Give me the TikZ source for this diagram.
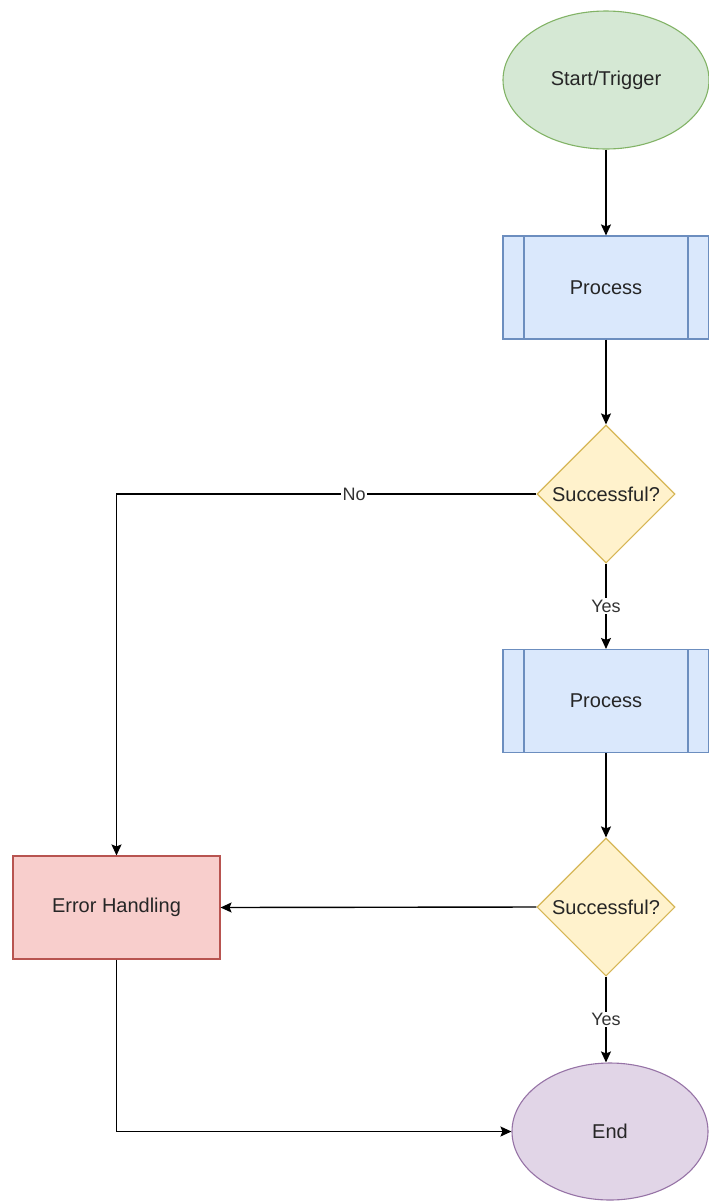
\documentclass[tikz,border=0pt]{standalone}
\usepackage{fontspec}
\setmainfont{Liberation Sans}
\usetikzlibrary{shapes.geometric,arrows.meta}
\definecolor{gfill}{HTML}{D5E8D4}\definecolor{gdraw}{HTML}{82B366}
\definecolor{bfill}{HTML}{DAE8FC}\definecolor{bdraw}{HTML}{6C8EBF}
\definecolor{yfill}{HTML}{FFF2CC}\definecolor{ydraw}{HTML}{D6B656}
\definecolor{rfill}{HTML}{F8CECC}\definecolor{rdraw}{HTML}{B85450}
\definecolor{pfill}{HTML}{E1D5E7}\definecolor{pdraw}{HTML}{9673A6}
\tikzset{
  base/.style={font=\fontsize{20}{24}\selectfont, text=black!85, inner sep=0pt, line width=1.1pt},
  term/.style={base, ellipse, minimum width=#1, minimum height=137pt},
  procbox/.style={base, rectangle, draw=bdraw, fill=bfill, minimum width=206pt, minimum height=103pt,
    path picture={\draw[bdraw, line width=1.1pt] ([xshift=21pt]path picture bounding box.north west) -- ([xshift=21pt]path picture bounding box.south west);
                  \draw[bdraw, line width=1.1pt] ([xshift=-21pt]path picture bounding box.north east) -- ([xshift=-21pt]path picture bounding box.south east);}},
  decision/.style={base, diamond, aspect=1, draw=ydraw, fill=yfill, minimum width=138pt, minimum height=138pt},
  errbox/.style={base, rectangle, draw=rdraw, fill=rfill, minimum width=207pt, minimum height=103pt},
  conn/.style={line width=1.4pt, -{Stealth[length=11pt,width=10pt,inset=2pt]}},
  lbl/.style={font=\fontsize{18}{22}\selectfont, fill=white, inner sep=1.5pt, text=black!80}
}
\begin{document}
\begin{tikzpicture}[x=1pt,y=1pt]
\useasboundingbox (0,0) rectangle (709,-1203);
\node[term=206pt, draw=gdraw, fill=gfill, minimum height=138pt] (start) at (606,-80) {Start/Trigger};
\node[procbox] (p1) at (606,-287.5) {Process};
\node[decision] (d1) at (606,-494) {Successful?};
\node[procbox] (p2) at (606,-701) {Process};
\node[decision] (d2) at (606,-907) {Successful?};
\node[errbox] (eh) at (116.5,-907.5) {Error Handling};
\node[term=196pt, draw=pdraw, fill=pfill] (end) at (610,-1131.5) {End};
\draw[conn] (start) -- (p1);
\draw[conn] (p1) -- (d1);
\draw[conn] (d1.west) -| node[lbl, pos=0.217] {No} (eh.north);
\draw[conn] (d1.south) -- node[lbl] {Yes} (p2.north);
\draw[conn] (p2) -- (d2);
\draw[conn] (d2.west) -- (eh.east);
\draw[conn] (d2.south) -- node[lbl] {Yes} (d2.south |- end.north);
\draw[conn] (eh.south) |- (end.west);
\end{tikzpicture}
\end{document}
